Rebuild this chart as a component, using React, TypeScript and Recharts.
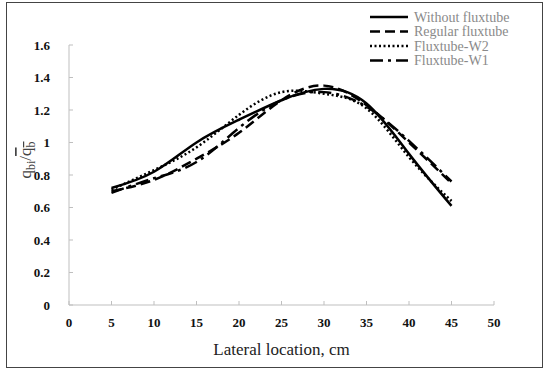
import { LineChart, Line, XAxis, YAxis } from "recharts";

const positions = [5, 10, 15, 20, 25, 30, 35, 40, 45];
const withoutFluxtube = [0.72, 0.82, 1.0, 1.14, 1.26, 1.33, 1.24, 0.93, 0.61];
const regularFluxtube = [0.7, 0.77, 0.9, 1.06, 1.26, 1.35, 1.23, 1.0, 0.75];
const fluxtubeW2 = [0.71, 0.83, 0.97, 1.17, 1.31, 1.3, 1.21, 0.91, 0.64];
const fluxtubeW1 = [0.69, 0.78, 0.88, 1.09, 1.26, 1.31, 1.22, 1.01, 0.76];

const xTicks = [0, 5, 10, 15, 20, 25, 30, 35, 40, 45, 50];
const yTicks = [0, 0.2, 0.4, 0.6, 0.8, 1, 1.2, 1.4, 1.6];

const data = positions.map((x, i) => ({
  x,
  without: withoutFluxtube[i],
  regular: regularFluxtube[i],
  w2: fluxtubeW2[i],
  w1: fluxtubeW1[i],
}));

const series = [
  { key: "without", name: "Without fluxtube", dash: undefined },
  { key: "regular", name: "Regular fluxtube", dash: "10 5" },
  { key: "w2", name: "Fluxtube-W2", dash: "2 2.5" },
  { key: "w1", name: "Fluxtube-W1", dash: "13 5 3 5" },
];

const SERIF = "'Liberation Serif', 'Times New Roman', serif";
const AXIS = "#bfbfbf";

const XTick = (props: any) => {
  const { x, y, payload } = props;
  return (
    <g>
      <line x1={x} x2={x} y1={y} y2={y - 4} stroke={AXIS} />
      <text x={x} y={y + 22} textAnchor="middle" fontFamily={SERIF} fontWeight="bold" fontSize={13} fill="#111">
        {payload.value}
      </text>
    </g>
  );
};

const YTick = (props: any) => {
  const { x, y, payload } = props;
  return (
    <g>
      <line x1={x} x2={x + 4} y1={y} y2={y} stroke={AXIS} />
      <text x={x - 19} y={y + 4.5} textAnchor="end" fontFamily={SERIF} fontWeight="bold" fontSize={13} fill="#111">
        {payload.value}
      </text>
    </g>
  );
};

const LegendBox = () => (
  <svg width={160} height={62} style={{ position: "absolute", left: 365, top: 9 }}>
    {series.map((s, i) => (
      <g key={s.key}>
        <line x1={5} x2={43} y1={8 + i * 14.5} y2={8 + i * 14.5} stroke="#000" strokeWidth={2.5} strokeDasharray={s.dash} />
        <text x={49} y={12.5 + i * 14.5} fontFamily={SERIF} fontSize={14} fill="#8a8a8a">
          {s.name}
        </text>
      </g>
    ))}
  </svg>
);

const YLabel = () => (
  <text transform="translate(31,160) rotate(-90)" textAnchor="middle" fontFamily={SERIF} fontSize={17} fill="#444">
    q<tspan fontSize={12} dy={4}>bi</tspan>
    <tspan dy={-4}>/</tspan>
    <tspan textDecoration="overline">q</tspan>
    <tspan fontSize={12} dy={4} textDecoration="overline">b</tspan>
  </text>
);

export default function App() {
  return (
    <div style={{ position: "absolute", left: 0, top: 0, width: 550, height: 373, background: "#fff" }}>
      <div style={{ position: "absolute", left: 6, top: 2, width: 535, height: 364, border: "1.5px solid #444" }} />
      <LineChart width={550} height={373} data={data} margin={{ top: 45, right: 56, bottom: 37, left: 29 }}>
        <XAxis
          dataKey="x"
          type="number"
          domain={[0, 50]}
          ticks={xTicks}
          stroke={AXIS}
          tickLine={false}
          tickSize={0}
          tickMargin={0}
          height={31}
          tick={<XTick />}
          interval={0}
          label={{ value: "Lateral location, cm", position: "bottom", offset: 7, fontFamily: SERIF, fontSize: 17, fill: "#222" }}
        />
        <YAxis
          type="number"
          domain={[0, 1.6]}
          ticks={yTicks}
          stroke={AXIS}
          tickLine={false}
          tickSize={0}
          tickMargin={0}
          width={40}
          tick={<YTick />}
          interval={0}
          label={{ content: () => <YLabel /> }}
        />
        {series.map((s) => (
          <Line
            key={s.key}
            dataKey={s.key}
            name={s.name}
            type="natural"
            stroke="#000"
            strokeWidth={2.5}
            strokeDasharray={s.dash}
            dot={false}
            isAnimationActive={false}
          />
        ))}
      </LineChart>
      <LegendBox />
    </div>
  );
}
